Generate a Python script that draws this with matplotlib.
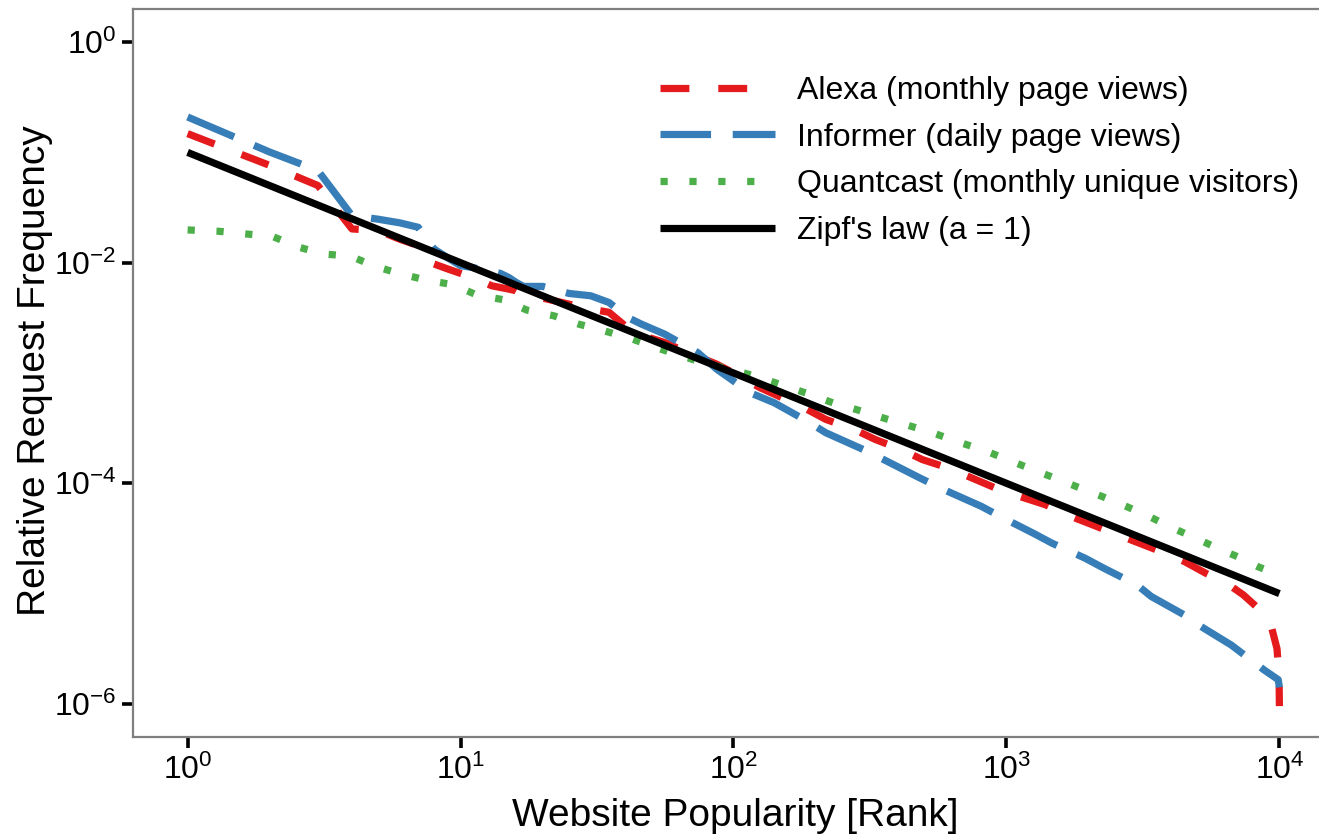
import numpy as np
import matplotlib
matplotlib.use("Agg")
import matplotlib.pyplot as plt
from matplotlib.ticker import NullLocator

plt.rcParams["font.family"] = ["Liberation Sans", "DejaVu Sans"]
plt.rcParams["mathtext.fontset"] = "custom"
plt.rcParams["mathtext.rm"] = "Liberation Sans"
plt.rcParams["mathtext.it"] = "Liberation Sans:italic"
plt.rcParams["mathtext.default"] = "regular"

# Alexa (monthly page views): rank, log10 relative frequency
alexa_rank = [1, 2, 3, 4, 5, 6, 7, 8, 9, 10, 11, 12, 13, 14, 15, 16, 17, 18, 19, 20,
              25, 30, 35, 40, 45, 56, 66, 87, 100, 125, 146, 186, 218, 277, 331, 412,
              492, 612, 748, 912, 1114, 1387, 1660, 2065, 2466, 3069, 3673, 4487,
              5370, 6412, 7380, 8490, 9380, 9800, 9970, 10000]
alexa_log10 = [-0.830, -1.118, -1.300, -1.694, -1.709, -1.788, -1.845, -2.012, -2.058,
               -2.097, -2.133, -2.170, -2.209, -2.225, -2.239, -2.255, -2.291, -2.309,
               -2.315, -2.321, -2.376, -2.420, -2.450, -2.570, -2.650, -2.724, -2.800,
               -2.921, -3.000, -3.133, -3.209, -3.330, -3.421, -3.512, -3.603, -3.694,
               -3.785, -3.861, -3.952, -4.043, -4.118, -4.194, -4.285, -4.376, -4.452,
               -4.543, -4.618, -4.709, -4.815, -4.906, -5.012, -5.148, -5.315, -5.500,
               -5.750, -6.020]

# Informer (daily page views)
informer_rank = [1, 2, 3, 4, 5, 6, 7, 8, 9, 10, 11, 12, 13, 14, 15, 16, 17, 18, 19, 20,
                 25, 30, 35, 41, 46, 56, 74, 87, 115, 141, 186, 218, 299, 365, 482, 589,
                 809, 948, 1253, 1469, 1941, 2275, 3006, 3396, 4487, 5058, 6668, 8810,
                 9900, 10000]
informer_log10 = [-0.679, -0.997, -1.164, -1.573, -1.606, -1.639, -1.679, -1.876, -1.958,
                  -2.027, -2.042, -2.064, -2.079, -2.097, -2.133, -2.179, -2.215, -2.215,
                  -2.215, -2.215, -2.279, -2.300, -2.361, -2.497, -2.557, -2.648, -2.815,
                  -2.967, -3.179, -3.270, -3.436, -3.542, -3.694, -3.800, -3.952, -4.057,
                  -4.209, -4.300, -4.452, -4.543, -4.679, -4.770, -4.921, -5.027, -5.194,
                  -5.285, -5.467, -5.694, -5.780, -5.850]

# Quantcast (monthly unique visitors)
quantcast_rank = [1, 1.3, 1.63, 2.04, 2.52, 3.14, 3.95, 4.82, 6.0, 7.5, 9.4, 11.5, 14.4,
                  17.5, 22, 27.1, 33.6, 41.8, 52, 64.6, 78.9, 97.7, 122, 152, 186, 231,
                  286, 352, 438, 545, 664, 826, 1009, 1230, 1503, 1832, 2265, 2780, 3365,
                  4064, 4864, 5929, 7096, 8318, 10000]
quantcast_log10 = [-1.703, -1.715, -1.739, -1.760, -1.855, -1.921, -1.940, -2.030, -2.100,
                   -2.158, -2.200, -2.294, -2.336, -2.430, -2.482, -2.557, -2.618, -2.685,
                   -2.770, -2.845, -2.915, -2.967, -3.033, -3.112, -3.185, -3.270, -3.336,
                   -3.406, -3.476, -3.548, -3.624, -3.700, -3.785, -3.870, -3.952, -4.036,
                   -4.124, -4.215, -4.306, -4.406, -4.490, -4.588, -4.670, -4.755, -4.830]

# Zipf's law (a = 1)
zipf_rank = [1, 10, 100, 1000, 10000]
zipf_freq = [1e-1, 1e-2, 1e-3, 1e-4, 1e-5]

x_ticks = [1, 10, 100, 1000, 10000]
x_labels = ["$10^{0}$", "$10^{1}$", "$10^{2}$", "$10^{3}$", "$10^{4}$"]
y_ticks = [1e-6, 1e-4, 1e-2, 1e0]
y_labels = ["$10^{-6}$", "$10^{-4}$", "$10^{-2}$", "$10^{0}$"]

W, H = 1319, 834
fig = plt.figure(figsize=(W / 100, H / 100), dpi=100)
# panel runs off the right edge of the picture, like the reference crop
ax = fig.add_axes([133 / W, 1 - 737 / H, 1201 / W, 728 / H])

lw = 5.2
ax.plot(alexa_rank, 10 ** np.array(alexa_log10), color="#E41A1C", lw=lw,
        dashes=(4, 4), dash_capstyle="butt", label="Alexa (monthly page views)")
ax.plot(informer_rank, 10 ** np.array(informer_log10), color="#377EB8", lw=lw,
        dashes=(7, 3), dash_capstyle="butt", label="Informer (daily page views)")
ax.plot(quantcast_rank, 10 ** np.array(quantcast_log10), color="#4DAF4A", lw=lw,
        dashes=(1, 3), dash_capstyle="butt", label="Quantcast (monthly unique visitors)")
ax.plot(zipf_rank, zipf_freq, color="black", lw=lw, solid_capstyle="butt",
        label="Zipf's law (a = 1)")

ax.set_xscale("log")
ax.set_yscale("log")
ax.set_xlim(10 ** -0.2, 10 ** 4.2)
ax.set_ylim(10 ** -6.3, 10 ** 0.3)
ax.set_xticks(x_ticks)
ax.set_xticklabels(x_labels)
ax.set_yticks(y_ticks)
ax.set_yticklabels(y_labels)
ax.xaxis.set_minor_locator(NullLocator())
ax.yaxis.set_minor_locator(NullLocator())
ax.tick_params(axis="both", direction="out", length=8, width=2.6, color="black",
               labelsize=23, labelcolor="black")
ax.tick_params(axis="x", pad=5)
ax.tick_params(axis="y", pad=4)

for side in ("top", "bottom", "left", "right"):
    ax.spines[side].set_color("#7F7F7F")
    ax.spines[side].set_linewidth(1.6)

fig.text(735 / W, 1 - 826 / H, "Website Popularity [Rank]", fontsize=28,
         ha="center", va="baseline")
fig.text(45 / W, 1 - 370.5 / H, "Relative Request Frequency", fontsize=28,
         rotation=90, rotation_mode="anchor", ha="center", va="baseline")

ax.legend(loc="upper left", bbox_to_anchor=(660 / W, 1 - 76 / H),
          bbox_transform=fig.transFigure, frameon=False, fontsize=23,
          handlelength=3.6, handletextpad=0.69, labelspacing=0.52,
          borderpad=0, borderaxespad=0)

fig.savefig("out.png", dpi=100)
